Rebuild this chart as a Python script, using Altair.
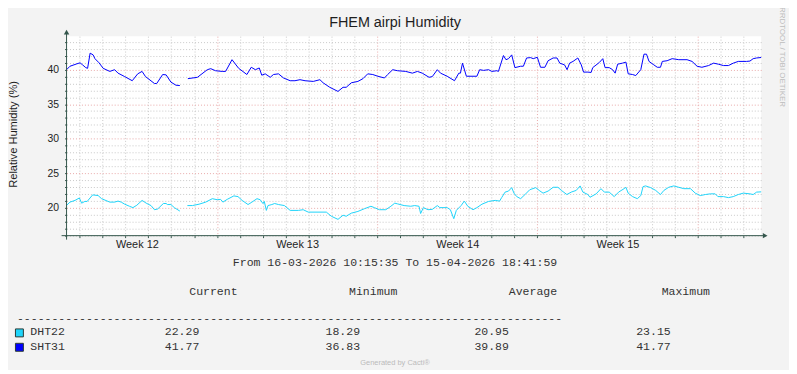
import altair as alt
import pandas as pd

# ---------------- data ----------------
TITLE = "FHEM airpi Humidity"
Y_TITLE = "Relative Humidity (%)"
RANGE_TEXT = "From 16-03-2026 10:15:35 To 15-04-2026 18:41:59"
SPAN_DAYS = 30 + (8 * 3600 + 26 * 60 + 24) / 86400          # 16-03 10:15:35 -> 15-04 18:41:59
FIRST_MIDNIGHT = (13 * 3600 + 44 * 60 + 25) / 86400          # start -> 17-03-2026 00:00
FIRST_WEEK = 12
Y_MIN, Y_MAX = 15.94, 44.86

# time in days since start; None marks the gap in the data
sht31_day = [0.00, 0.15, 0.45, 0.59, 0.70, 0.84, 0.92, 1.03, 1.16, 1.24, 1.42, 1.60, 1.89, 2.10,
             2.25, 2.54, 2.87, 3.11, 3.30, 3.45, 3.84, 3.94, 4.20, 4.35, 4.56, 4.78, 4.95, 5.12,
             5.30, 5.72, 6.15, 6.30, 6.51, 6.80, 6.95, 7.23, 7.52, 7.88, 8.07, 8.25, 8.42, 8.53,
             8.68, 8.90, 9.04, 9.26, 9.48, 9.77, 9.98, 10.20, 10.42, 10.78, 11.07, 11.21, 11.50,
             11.86, 12.08, 12.22, 12.44, 12.73, 12.95, 13.16, 13.38, 13.60, 13.89, 14.03, 14.25,
             14.46, 14.82, 15.11, 15.33, 15.54, 15.84, 15.98, 16.20, 16.34, 16.63, 16.95, 17.14,
             17.21, 17.30, 17.47, 17.93, 18.05, 18.22, 18.44, 18.58, 18.80, 18.87, 19.09, 19.20,
             19.31, 19.45, 19.59, 19.84, 19.96, 20.10, 20.28, 20.39, 20.57, 20.71, 20.90, 21.04,
             21.26, 21.43, 21.55, 21.76, 21.87, 21.98, 22.13, 22.34, 22.49, 22.59, 22.78, 22.92,
             22.99, 23.28, 23.43, 23.53, 23.71, 23.86, 23.97, 24.08, 24.29, 24.44, 24.54, 24.73,
             24.87, 25.09, 25.23, 25.34, 25.45, 25.66, 25.81, 25.95, 26.03, 26.24, 26.46, 26.75,
             27.11, 27.33, 27.55, 27.76, 28.05, 28.27, 28.48, 28.70, 28.92, 29.13, 29.35, 29.71,
             29.86, 30.00, 30.15, 30.35]
sht31_val = [40.0, 40.5, 40.85, 41.0, 40.7, 40.3, 40.2, 42.4, 42.15, 41.6, 41.0, 40.2, 39.75, 40.0,
             39.5, 39.0, 38.4, 39.4, 39.75, 39.0, 38.0, 38.0, 39.3, 39.25, 38.2, 37.75, 37.7, None,
             38.7, 38.9, 40.0, 40.15, 39.85, 39.75, 39.75, 41.45, 40.2, 39.3, 40.35, 40.0, 40.25, 39.2,
             39.4, 38.9, 39.3, 39.4, 38.8, 38.4, 38.4, 38.55, 38.4, 38.3, 38.55, 38.1, 37.45,
             36.85, 37.45, 37.45, 38.1, 38.3, 38.7, 39.4, 39.3, 39.05, 38.8, 39.3, 40.0,
             39.85, 39.75, 39.5, 39.75, 39.5, 38.9, 39.0, 40.0, 39.5, 39.05, 38.4, 39.5,
             39.5, 40.95, 39.05, 39.05, 40.0, 39.9, 40.0, 39.75, 39.85, 39.75, 42.05, 41.45,
             41.6, 42.15, 40.3, 40.5, 40.5, 41.7, 41.75, 41.6, 41.8, 40.35, 40.35, 41.3,
             41.7, 41.7, 40.95, 40.7, 40.0, 40.95, 41.2, 41.7, 40.7, 39.65, 39.65, 39.6,
             40.3, 41.05, 41.6, 40.3, 40.3, 40.0, 39.5, 40.8, 40.95, 41.1, 39.4, 39.3,
             39.15, 40.0, 42.25, 42.25, 41.2, 40.7, 40.35, 40.35, 41.2, 41.3, 41.6, 41.45,
             41.45, 41.2, 40.5, 40.35, 40.6, 40.95, 40.8, 40.6, 40.6, 40.95, 41.2, 41.2,
             41.25, 41.6, 41.7, 41.77]

dht22_day = [0.00, 0.15, 0.37, 0.56, 0.66, 0.80, 0.90, 1.14, 1.38, 1.53, 1.89, 2.10, 2.25, 2.39,
             2.54, 2.75, 2.90, 3.07, 3.30, 3.48, 3.69, 3.84, 3.98, 4.23, 4.35, 4.41, 4.56, 4.71,
             4.95, 5.12,
             5.28, 5.50, 5.79, 6.08, 6.37, 6.58, 6.73, 6.83, 7.02, 7.31, 7.49, 7.67, 7.93, 8.10,
             8.32, 8.46, 8.58, 8.64, 8.73, 8.80, 8.97, 9.09, 9.26, 9.52, 9.77, 10.13, 10.34, 10.56,
             11.35, 11.57, 11.86, 12.08, 12.22, 12.44, 12.73, 13.02, 13.30, 13.45, 13.67, 13.95,
             14.17, 14.34, 14.46, 14.75, 15.04, 15.21, 15.40, 15.47, 15.59, 15.79, 15.98, 16.20,
             16.31, 16.63, 16.77, 16.92, 17.03, 17.24, 17.38, 17.53, 17.76, 17.93, 18.15, 18.44,
             18.73, 18.92, 19.02, 19.16, 19.31, 19.45, 19.55, 19.67, 19.84, 20.03, 20.24, 20.50,
             20.65, 20.82, 21.04, 21.26, 21.47, 21.62, 21.86, 22.05, 22.27, 22.44, 22.56, 22.78,
             22.87, 23.14, 23.35, 23.50, 23.71, 23.93, 24.12, 24.36, 24.44, 24.54, 24.73, 24.94,
             25.09, 25.19, 25.30, 25.52, 25.74, 25.95, 26.10, 26.31, 26.53, 26.75, 26.97, 27.26,
             27.47, 27.69, 27.91, 28.13, 28.34, 28.46, 28.70, 28.92, 29.13, 29.35, 29.57, 29.86,
             30.00, 30.15, 30.35]
dht22_val = [20.33, 20.8, 21.05, 21.4, 20.65, 20.9, 20.9, 21.85, 21.75, 21.3, 20.8, 20.8, 20.95, 20.8,
             20.5, 20.2, 20.0, 20.35, 21.05, 20.65, 20.3, 19.7, 19.8, 20.6, 20.6, 20.45, 20.45, 20.0,
             19.5, None,
             20.3, 20.3, 20.5, 20.8, 21.3, 21.15, 21.2, 20.8, 21.2, 21.7, 21.6, 21.05, 20.45, 20.8,
             21.3, 21.15, 20.6, 20.9, 19.6, 20.3, 20.45, 20.6, 20.45, 20.3, 19.6, 19.6, 19.7, 19.35,
             19.35, 18.75, 18.3, 18.9, 18.75, 19.2, 19.45, 19.85, 20.2, 20.0, 19.7, 19.7,
             20.2, 20.65, 20.55, 20.3, 20.2, 20.3, 20.2, 19.15, 20.0, 19.7, 19.75, 20.3,
             20.0, 20.0, 19.7, 18.4, 19.6, 20.3, 20.95, 20.2, 19.7, 20.0, 20.5, 20.9,
             21.05, 20.95, 21.5, 22.25, 22.4, 22.9, 22.1, 21.6, 21.3, 21.9, 22.6, 22.9,
             22.5, 22.1, 22.4, 22.95, 22.95, 22.5, 21.9, 22.25, 22.5, 23.15, 22.25, 21.9,
             21.5, 22.0, 22.75, 22.25, 22.25, 21.6, 22.25, 22.75, 22.95, 22.1, 21.6, 21.3,
             21.75, 23.05, 23.15, 22.9, 22.5, 21.9, 22.5, 22.95, 23.15, 22.95, 22.75, 22.75,
             22.1, 21.75, 21.9, 22.0, 22.0, 21.6, 21.6, 21.45, 21.6, 21.9, 22.1, 22.0,
             21.9, 22.25, 22.29]

series_names = ["DHT22", "SHT31"]
series_colors = ["#1ED4FA", "#0000FF"]
legend_current = [22.29, 41.77]
legend_minimum = [18.29, 36.83]
legend_average = [20.95, 39.89]
legend_maximum = [23.15, 41.77]
legend_headers = ["Current", "Minimum", "Average", "Maximum"]

# ---------------- build table ----------------
rows = []
for name, days, vals in [("DHT22", dht22_day, dht22_val), ("SHT31", sht31_day, sht31_val)]:
    seg = 0
    for d, v in zip(days, vals):
        if v is None:
            seg += 1
            continue
        rows.append({"day": d, "value": v, "series": name, "seg": f"{name}-{seg}"})
df = pd.DataFrame(rows)

day_lines = [FIRST_MIDNIGHT + k for k in range(31) if FIRST_MIDNIGHT + k < SPAN_DAYS]
week_center0 = FIRST_MIDNIGHT - 1 + 3.5
week_centers = [week_center0 + 7 * i for i in range(5) if week_center0 + 7 * i < SPAN_DAYS]
week_bound0 = FIRST_MIDNIGHT + 6

W, H = 700, 201
OX, OY = 67, 35  # page position of plot origin
def px(x):
    return x - OX
def py(y):
    return y - OY

GRID_GRAY = "#C9C9C9"
GRID_RED = "#E9A9A9"
AXIS_COL = "#34564C"
TXT = "#1E1E1E"
LEG_TXT = "#333333"
SANS = "Liberation Sans"
MONO = "Liberation Mono"

is_wb = f"abs(datum.value - {week_bound0} - 7*round((datum.value - {week_bound0})/7)) < 0.01"
is_wc = f"abs(datum.value - {week_center0} - 7*round((datum.value - {week_center0})/7)) < 0.01"

x_axis = alt.Axis(
    values=sorted(day_lines + week_centers), title=None, domain=False,
    grid=True, gridDash=[1, 2], gridWidth=1,
    gridColor={"condition": {"test": is_wb, "value": GRID_RED}, "value": GRID_GRAY},
    gridOpacity={"condition": {"test": is_wc, "value": 0}, "value": 1},
    ticks=True, tickSize=2, tickColor=AXIS_COL,
    tickOpacity={"condition": {"test": is_wc, "value": 0}, "value": 1},
    labelExpr=f"({is_wc}) ? 'Week ' + ({FIRST_WEEK} + round((datum.value - {week_center0})/7)) : ''",
    labelFont=SANS, labelFontSize=11, labelColor=TXT, labelPadding=1,
    labelAngle=0, labelOverlap=False, labelFlush=False,
)
y_axis = alt.Axis(
    values=list(range(16, 45)), title=None, domain=False,
    grid=True, gridDash=[1, 2], gridWidth=1,
    gridColor={"condition": {"test": "datum.value % 5 === 0", "value": GRID_RED}, "value": GRID_GRAY},
    ticks=True, tickSize=2, tickColor=AXIS_COL,
    labelExpr="datum.value % 5 === 0 ? datum.label : ''",
    labelFont=SANS, labelFontSize=10.5, labelColor=TXT, labelPadding=6,
)

lines = alt.Chart(df).mark_line(strokeWidth=1, interpolate="linear").encode(
    x=alt.X("day:Q", scale=alt.Scale(domain=[0, SPAN_DAYS], nice=False, zero=False), axis=x_axis),
    y=alt.Y("value:Q", scale=alt.Scale(domain=[Y_MIN, Y_MAX], nice=False, zero=False), axis=y_axis),
    color=alt.Color("series:N", scale=alt.Scale(domain=series_names, range=series_colors), legend=None),
    detail="seg:N",
)

one = alt.Data(values=[{"a": 1}])

def text(t, x, y, align="left", baseline="middle", font=SANS, size=11, color=TXT, angle=0):
    kw = dict(text=t, align=align, baseline=baseline, font=font, fontSize=size, color=color)
    if angle:
        kw["angle"] = angle
    return alt.Chart(one).mark_text(**kw).encode(x=alt.value(x), y=alt.value(y))

layers = [lines]

# axes with arrows
layers.append(alt.Chart(one).mark_rule(color=AXIS_COL, strokeWidth=1).encode(
    x=alt.value(px(62)), x2=alt.value(px(769)), y=alt.value(H)))
layers.append(alt.Chart(one).mark_rule(color=AXIS_COL, strokeWidth=1).encode(
    x=alt.value(0), y=alt.value(py(240)), y2=alt.value(py(32))))
layers.append(alt.Chart(one).mark_point(shape="triangle-up", filled=True, size=30, color=AXIS_COL, opacity=1).encode(
    x=alt.value(0), y=alt.value(py(31))))
layers.append(alt.Chart(one).mark_point(shape="triangle-right", filled=True, size=30, color=AXIS_COL, opacity=1).encode(
    x=alt.value(px(771)), y=alt.value(H)))

# titles
layers.append(text(TITLE, px(398), py(22), align="center", size=14.5))
layers.append(text(Y_TITLE, px(14.5), py(134), align="center", size=11.2, angle=270))
layers.append(text("RRDTOOL / TOBI OETIKER", px(788), py(56), align="center", size=8, color="#BDBDBD", angle=90))
layers.append(text(RANGE_TEXT, px(398), py(264), align="center", font=MONO, size=11.6, color=LEG_TXT))

# legend header
for h, cx in zip(legend_headers, [215, 376, 537, 691]):
    layers.append(text(h, px(cx), py(292.5), align="center", font=MONO, size=11.6, color=LEG_TXT))
layers.append(text("-" * 79, px(17), py(320.5), font=MONO, size=11.6, color=LEG_TXT))

# legend rows
for i, name in enumerate(series_names):
    yy = py(333.3 + 14.5 * i)
    layers.append(alt.Chart(one).mark_square(size=64, color=series_colors[i], stroke="#2A3A35",
                                             strokeWidth=1, opacity=1).encode(
        x=alt.value(px(19.5)), y=alt.value(yy + 0.7)))
    layers.append(text(name, px(30.5), yy, font=MONO, size=11.6, color=LEG_TXT))
    for vals, lx in zip([legend_current, legend_minimum, legend_average, legend_maximum],
                        [166, 328, 478, 641]):
        layers.append(text(f"{vals[i]:.2f}", px(lx), yy, font=MONO, size=11.6, color=LEG_TXT))

layers.append(text("Generated by Cacti®", px(398), py(364), align="center", size=7.5, color="#BBBBBB"))

chart = alt.layer(*layers).properties(
    width=W, height=H,
    autosize=alt.AutoSizeParams(type="none"),
    padding={"left": OX - 8, "top": OY - 8, "right": 28, "bottom": 134},
    background="#F3F3F3",
).configure_view(fill="#FFFFFF", stroke=None)

chart.save("out.html", embed_options={"renderer": "svg", "actions": False})
